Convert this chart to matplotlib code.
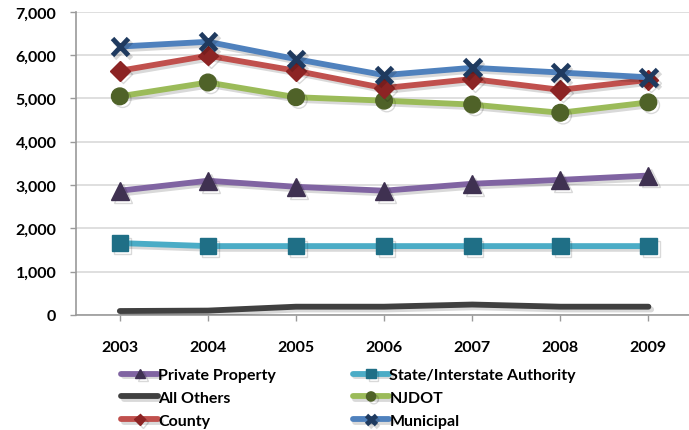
import matplotlib.pyplot as plt
import matplotlib.patheffects as pe
from matplotlib.ticker import FuncFormatter

years = [2003, 2004, 2005, 2006, 2007, 2008, 2009]

private_property = [2870, 3100, 2960, 2870, 3030, 3120, 3220]
state_interstate = [1660, 1590, 1590, 1590, 1590, 1590, 1590]
all_others = [90, 100, 190, 190, 240, 190, 190]
njdot = [5050, 5370, 5030, 4950, 4860, 4670, 4910]
county = [5640, 5990, 5640, 5240, 5450, 5200, 5430]
municipal = [6200, 6310, 5910, 5540, 5710, 5600, 5490]

# name, values, line colour, marker, marker colour, marker size
series = [
    ("Private Property", private_property, "#8064A2", "^", "#3F3151", 13),
    ("State/Interstate Authority", state_interstate, "#4BACC6", "s", "#1F6F86", 12),
    ("All Others", all_others, "#404040", None, "#404040", 0),
    ("NJDOT", njdot, "#9BBB59", "o", "#4F6228", 12),
    ("County", county, "#C0504D", "D", "#8C2424", 10),
    ("Municipal", municipal, "#4F81BD", "x", "#1F3A5F", 12),
]

plt.rcParams['font.family'] = ['Lato', 'DejaVu Sans']

fig = plt.figure(figsize=(6.89, 4.31), dpi=100)
ax = fig.add_axes([0.110, 0.267, 0.895, 0.703])

shadow = [pe.SimpleLineShadow(offset=(2, -2), shadow_color="black", alpha=0.15), pe.Normal()]

handles = {}
for name, vals, lc, mk, mc, ms in series:
    line, = ax.plot(years, vals, color=lc, lw=4.2, solid_capstyle="round",
                    marker=mk, markersize=ms, markerfacecolor=mc, markeredgecolor=mc,
                    markeredgewidth=3.5 if mk == "x" else 1, zorder=3, label=name)
    line.set_path_effects(shadow)
    handles[name] = line

ax.set_xlim(2002.5, 2009.5)
ax.set_ylim(0, 7000)
ax.set_xticks(years)
ax.set_yticks(range(0, 7001, 1000))
ax.yaxis.set_major_formatter(FuncFormatter(lambda v, p: f"{int(v):,}"))
ax.grid(axis="y", color="#D9D9D9", lw=1.2)
ax.set_axisbelow(True)

for side in ("top", "right"):
    ax.spines[side].set_visible(False)
for side in ("left", "bottom"):
    ax.spines[side].set_color("#9A9A9A")
    ax.spines[side].set_linewidth(1.2)
ax.tick_params(axis="both", colors="#9A9A9A", length=4, width=1)
ax.tick_params(axis="x", pad=14)
ax.tick_params(axis="y", pad=10)
for lab in ax.get_xticklabels() + ax.get_yticklabels():
    lab.set_color("black")
    lab.set_fontweight("bold")
    lab.set_fontsize(11.5)

order = ["Private Property", "All Others", "County",
         "State/Interstate Authority", "NJDOT", "Municipal"]
leg = fig.legend([handles[n] for n in order], order, ncol=2,
                 loc="upper left", bbox_to_anchor=(0.16, 0.17),
                 frameon=False, handlelength=2.3, handletextpad=0.0,
                 columnspacing=4.8, labelspacing=0.55, borderpad=0.2,
                 prop={"weight": "bold", "size": 11.5}, markerscale=0.55)

fig.savefig("out.png", dpi=100)
